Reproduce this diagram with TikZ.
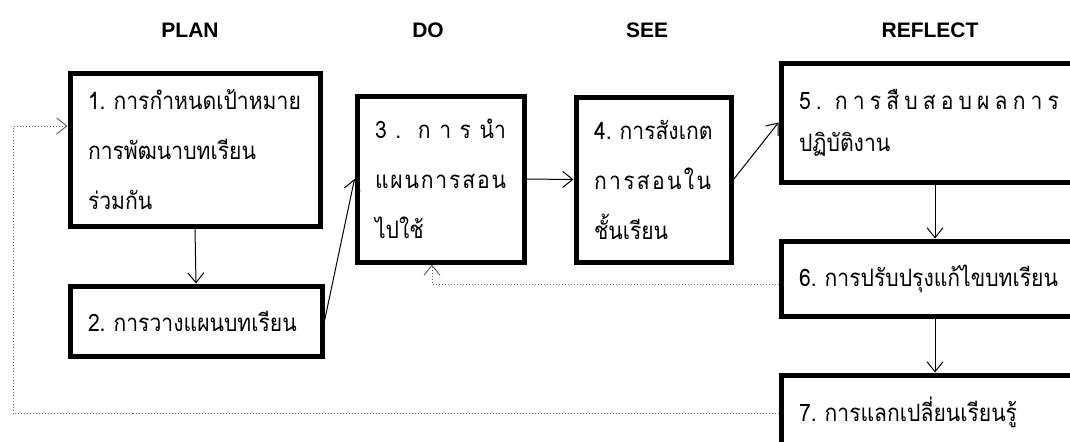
\documentclass[tikz,border=0pt]{standalone}
\usepackage{fontspec}
\usetikzlibrary{arrows.meta}
\setmainfont{Liberation Sans}
\newfontfamily\thaifont[Script=Thai,FakeStretch=0.88]{Loma}
\newcommand{\stage}[1]{\bfseries{#1}}
\newcommand{\spreadto}[2]{\makebox[#1][s]{\foreach \ch [count=\i] in {#2}{\ifnum\i>1\hfil\fi\ch}}}

\begin{document}
\begin{tikzpicture}[x=0.5pt,y=-0.5pt,
  box/.style={rectangle,draw=black,line width=2.5pt,align=left,inner xsep=9pt,inner ysep=0pt,
              font=\thaifont\fontsize{12}{25}\selectfont},
  flow/.style={-{Straight Barb[length=5pt,width=8pt]},draw=black,line width=0.5pt},
  back/.style={flow,densely dotted,draw=black!60}]
 \useasboundingbox (0,0) rectangle (1070,441);
 \clip (0,0) rectangle (1070,441);

 % stage titles
 \draw (190,30)  node[font=\fontsize{10.5}{12}\selectfont] (PLAN) {\stage{PLAN}};
 \draw (428,30)  node[font=\fontsize{10.5}{12}\selectfont] (DO) {\stage{DO}};
 \draw (647,30)  node[font=\fontsize{10.5}{12}\selectfont] (SEE) {\stage{SEE}};
 \draw (930,30)  node[font=\fontsize{10.5}{12}\selectfont] (REFLECT) {\stage{REFLECT}};

 % steps
 \draw (195,149.5)  node[box,text width=107pt,minimum height=76.5pt] (S1)
              {1.~การกำหนดเป้าหมาย\\การพัฒนาบทเรียน\\ร่วมกัน};

 \draw (196,321)  node[box,text width=108pt,minimum height=35pt] (S2)
              {2.~การวางแผนบทเรียน};

 \draw (440.5,179)  node[box,text width=65.5pt,minimum height=83pt] (S3)
              {\spreadto{65.5pt}{3,{.\ },ก,า,ร,นำ}\\
               \spreadto{65.5pt}{แ,ผ,น,ก,า,ร,ส,อ,น}\\ไปใช้};

 \draw (653.5,179.5)  node[box,text width=59.5pt,minimum height=82.5pt] (S4)
              {4.~การสังเกต\\\spreadto{58.5pt}{ก,า,ร,ส,อ,น,ใ,น}\\ชั้นเรียน};

 \draw (935,122.5)  node[box,text width=136pt,minimum height=59.5pt,
              font=\thaifont\fontsize{12}{21}\selectfont] (S5)
              {\spreadto{130pt}{5,{.\ },ก,า,ร,สื,บ,ส,อ,บ,ผ,ล,ก,า,ร}\\ปฏิบัติงาน};

 \draw (935,278.5)  node[box,text width=136pt,minimum height=37.5pt] (S6)
              {6.~การปรับปรุงแก้ไขบทเรียน};

 \draw (935,412)  node[box,text width=136pt,minimum height=37pt] (S7)
              {7.~การแลกเปลี่ยนเรียนรู้};

 % turning points of the feedback lines
 \coordinate (R6) at (432,284);
 \coordinate (R7a) at (13,413);
 \coordinate (R7b) at (13,126);

 \draw[flow] (S1.south) -- (S2.north);
 \draw[flow] (S2.east) -- (S3.west);
 \draw[flow] (S3.east) -- (S4.west);
 \draw[flow] (S4.east) -- (S5.west);
 \draw[flow] (S5.south) -- (S6.north);
 \draw[flow] (S6.south) -- (S7.north);

 \draw[back] (S6.west |- R6) -- (R6) -- (R6 |- S3.south);
 \draw[back] (S7.west |- R7a) -- (R7a) -- (R7b) -- (S1.west |- R7b);

\end{tikzpicture}
\end{document}
